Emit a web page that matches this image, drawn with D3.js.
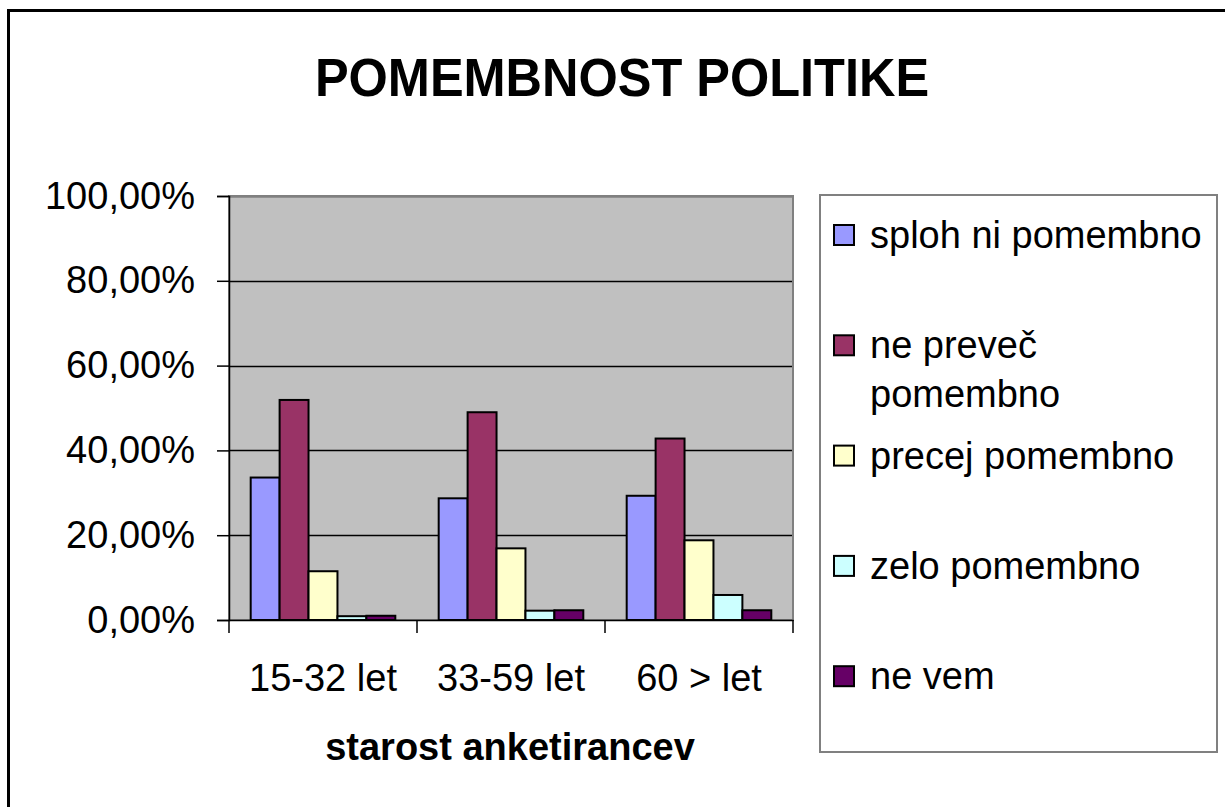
<!DOCTYPE html>
<html>
<head>
<meta charset="utf-8">
<script src="https://cdn.jsdelivr.net/npm/d3@7"></script>
<style>
  html, body { margin: 0; padding: 0; background: #fff; }
  svg { display: block; font-family: "Liberation Sans", Arial, sans-serif; }
</style>
</head>
<body>
<svg id="chart" width="1225" height="807"></svg>
<script>
// ---- data ----
const categories = ["15-32 let", "33-59 let", "60 > let"];
const seriesNames = ["sploh ni pomembno", "ne preveč pomembno", "precej pomembno", "zelo pomembno", "ne vem"];
const legendLines = [["sploh ni pomembno"], ["ne preveč", "pomembno"], ["precej pomembno"], ["zelo pomembno"], ["ne vem"]];
const seriesColors = ["#9999FF", "#993366", "#FFFFCC", "#CCFFFF", "#660066"];
// values per age group, in series order (percent)
const cat1532 = [33.6, 51.9, 11.5, 0.9, 1.0];
const cat3359 = [28.7, 49.0, 16.9, 2.2, 2.3];
const cat60   = [29.3, 42.8, 18.8, 5.9, 2.3];
const yTicks = [0, 20, 40, 60, 80, 100];
const titleText = "POMEMBNOST POLITIKE";
const xAxisTitle = "starost anketirancev";

const values = [cat1532, cat3359, cat60];

// ---- layout ----
const svg = d3.select("#chart");
const plot = { left: 229, right: 793, top: 196, bottom: 620 };

// outer border
svg.append("rect").attr("x", 8.5).attr("y", 10.5).attr("width", 1240).attr("height", 820)
  .attr("fill", "none").attr("stroke", "#000").attr("stroke-width", 3);

// title
svg.append("text").attr("transform", "translate(622,96) scale(1,1.06)").attr("text-anchor", "middle")
  .attr("font-size", 50.5).attr("font-weight", "bold").text(titleText);

const y = d3.scaleLinear().domain([0, 100]).range([plot.bottom, plot.top]);
const x0 = d3.scaleBand().domain(categories).range([plot.left, plot.right]).paddingInner(0).paddingOuter(0);
const x1 = d3.scaleBand().domain(d3.range(seriesNames.length)).range([0, x0.bandwidth()]).paddingInner(0).paddingOuter(0.75);

// plot background
svg.append("rect").attr("x", plot.left).attr("y", plot.top)
  .attr("width", plot.right - plot.left).attr("height", plot.bottom - plot.top)
  .attr("fill", "#C0C0C0");

// gridlines
svg.append("g").selectAll("line").data(yTicks.filter(d => d > 0)).join("line")
  .attr("x1", plot.left).attr("x2", plot.right)
  .attr("y1", d => Math.round(y(d)) + 0.5).attr("y2", d => Math.round(y(d)) + 0.5)
  .attr("stroke", "#000").attr("stroke-width", 1.3);

// plot border (gray)
svg.append("rect").attr("x", plot.left).attr("y", plot.top)
  .attr("width", plot.right - plot.left).attr("height", plot.bottom - plot.top)
  .attr("fill", "none").attr("stroke", "#808080").attr("stroke-width", 2);

// bars
const groups = svg.append("g").selectAll("g").data(values).join("g")
  .attr("transform", (d, i) => `translate(${x0(categories[i])},0)`);
groups.selectAll("rect").data(d => d.map((v, j) => ({ v, j }))).join("rect")
  .attr("x", d => x1(d.j))
  .attr("y", d => y(d.v))
  .attr("width", x1.bandwidth())
  .attr("height", d => y(0) - y(d.v))
  .attr("fill", d => seriesColors[d.j])
  .attr("stroke", "#000").attr("stroke-width", 2);

// y axis
const yAxis = d3.axisLeft(y).tickValues(yTicks).tickSize(12).tickPadding(22)
  .tickFormat(d => d3.format(".2f")(d).replace(".", ",") + "%");
const gy = svg.append("g").attr("transform", `translate(${plot.left},0)`).call(yAxis);
gy.select(".domain").attr("stroke", "#000").attr("stroke-width", 1.5);
gy.selectAll(".tick line").attr("stroke", "#000").attr("stroke-width", 1.5);
gy.selectAll(".tick text").attr("font-size", 38).attr("fill", "#000")
  .attr("font-family", "Liberation Sans, Arial, sans-serif");

// x axis
const xAxis = d3.axisBottom(x0).tickSize(0).tickPadding(0);
const gx = svg.append("g").attr("transform", `translate(0,${plot.bottom})`).call(xAxis);
gx.select(".domain").attr("stroke", "#000").attr("stroke-width", 1.5);
gx.selectAll(".tick text").attr("font-size", 38).attr("fill", "#000").attr("dy", 0).attr("y", 71)
  .attr("font-family", "Liberation Sans, Arial, sans-serif");
// category separator ticks
svg.append("g").selectAll("line").data(categories.concat(["end"])).join("line")
  .attr("x1", (d, i) => i < categories.length ? x0(d) : plot.right)
  .attr("x2", (d, i) => i < categories.length ? x0(d) : plot.right)
  .attr("y1", plot.bottom).attr("y2", plot.bottom + 13)
  .attr("stroke", "#000").attr("stroke-width", 1.5);

// x axis title
svg.append("text").attr("x", (plot.left + plot.right) / 2 - 1).attr("y", 760).attr("text-anchor", "middle")
  .attr("font-size", 38).attr("font-weight", "bold").text(xAxisTitle);

// legend
const legend = { x: 820, y: 195, w: 397, h: 557 };
svg.append("rect").attr("x", legend.x).attr("y", legend.y).attr("width", legend.w).attr("height", legend.h)
  .attr("fill", "#fff").attr("stroke", "#808080").attr("stroke-width", 2);
const rowCenters = seriesNames.map((d, i) => 235 + i * 110.3);
const li = svg.append("g").selectAll("g").data(seriesNames).join("g")
  .attr("transform", (d, i) => `translate(0,${rowCenters[i]})`);
li.append("rect").attr("x", 834).attr("y", -10).attr("width", 20).attr("height", 20)
  .attr("fill", (d, i) => seriesColors[i]).attr("stroke", "#000").attr("stroke-width", 2);
li.each(function (d, i) {
  d3.select(this).selectAll("text").data(legendLines[i]).join("text")
    .attr("x", 870).attr("y", (t, k) => 13 + k * 49)
    .attr("font-size", 38).attr("fill", "#000").text(t => t);
});
</script>
</body>
</html>
